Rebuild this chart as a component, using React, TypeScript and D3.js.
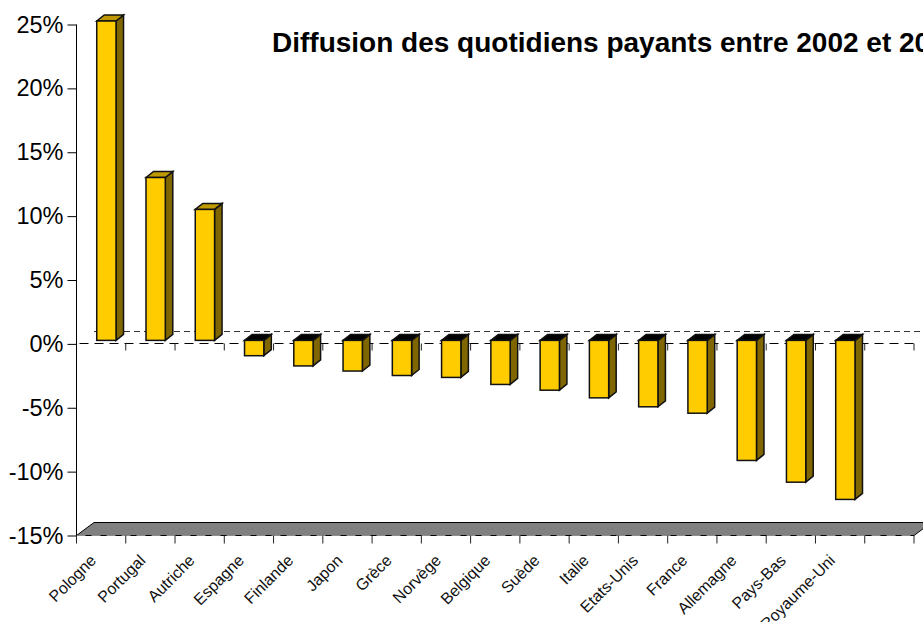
import React, { useEffect, useRef } from "react";
import * as d3 from "d3";

const categories = ["Pologne", "Portugal", "Autriche", "Espagne", "Finlande", "Japon", "Grèce", "Norvège", "Belgique", "Suède", "Italie", "Etats-Unis", "France", "Allemagne", "Pays-Bas", "Royaume-Uni", ""];
const values = [25, 12.75, 10.25, -1.2, -2.0, -2.4, -2.75, -2.9, -3.45, -3.9, -4.5, -5.2, -5.7, -9.4, -11.1, -12.45];
const yTicks = [25, 20, 15, 10, 5, 0, -5, -10, -15];
const title = "Diffusion des quotidiens payants entre 2002 et 2003";

const FONT = "'Liberation Sans', Arial, sans-serif";

export default function App() {
  const ref = useRef<SVGSVGElement>(null);

  useEffect(() => {
    document.body.style.margin = "0";
    const svg = d3.select(ref.current);
    svg.selectAll("*").remove();

    const width = 923;
    const height = 622;
    const left = 76.5;
    const right = 914;
    const top = 24.5;
    const bottom = 535.5;
    // depth of the fake 3d box, and of each bar inside it
    const wallDx = 17.5;
    const wallDy = 12;
    const barDx = 7.5;
    const barDy = 6;
    const shiftX = 5.25;
    const shiftY = 3.5;

    const x = d3.scaleBand().domain(categories.map((c, i) => i + c)).range([left, right]).paddingInner(0);
    const y = d3.scaleLinear().domain([-15, 25]).range([bottom, top]);
    const barW = 19.3;
    // snap the zero lines to a pixel so the dashes stay sharp
    const zeroY = Math.floor(y(0)) + 0.5;

    // floor
    svg.append("path")
      .attr("d", `M${left},${bottom}L${left + wallDx},${bottom - 13}L${right + wallDx},${bottom - 13}L${right},${bottom}Z`)
      .attr("fill", "#808080")
      .attr("stroke", "#000")
      .attr("stroke-width", 1);
    svg.append("line")
      .attr("x1", left).attr("x2", right).attr("y1", bottom).attr("y2", bottom)
      .attr("stroke", "#fff").attr("stroke-opacity", 0.55).attr("stroke-dasharray", "9 6");

    // zero gridline on the back wall
    svg.append("line")
      .attr("x1", left + wallDx).attr("x2", right + wallDx)
      .attr("y1", zeroY - wallDy).attr("y2", zeroY - wallDy)
      .attr("stroke", "#333").attr("stroke-width", 1).attr("stroke-dasharray", "6 4");

    // zero axis with its ticks
    const zero = svg.append("g").attr("transform", `translate(0,${zeroY})`);
    zero.append("line").attr("x1", left).attr("x2", right).attr("stroke", "#000").attr("stroke-dasharray", "9 6").attr("stroke-dashoffset", -3);
    zero.selectAll("line.t")
      .data(d3.range(1, categories.length + 1))
      .enter()
      .append("line")
      .attr("class", "t")
      .attr("x1", (i) => left + x.step() * i)
      .attr("x2", (i) => left + x.step() * i)
      .attr("y1", 0)
      .attr("y2", 7)
      .attr("stroke", "#222");

    // bars
    const bars = svg.append("g").selectAll("g").data(values).enter().append("g");
    const bx = (i: number) => x(i + categories[i])! + x.bandwidth() / 2 - barW / 2 + shiftX;
    const yTop = (v: number) => y(Math.max(v, 0)) - shiftY;
    const yBot = (v: number) => y(Math.min(v, 0)) - shiftY;

    bars.append("path")
      .attr("d", (v, i) => {
        const r = bx(i) + barW;
        return `M${r},${yTop(v)}L${r + barDx},${yTop(v) - barDy}L${r + barDx},${yBot(v) - barDy}L${r},${yBot(v)}Z`;
      })
      .attr("fill", "#806600")
      .attr("stroke", "#111")
      .attr("stroke-width", 1.5);
    bars.append("path")
      .attr("d", (v, i) => {
        const l = bx(i);
        const t = yTop(v);
        return `M${l},${t}L${l + barDx},${t - barDy}L${l + barW + barDx},${t - barDy}L${l + barW},${t}Z`;
      })
      .attr("fill", (v) => (v > 0 ? "#bf9900" : "#000"))
      .attr("stroke", "#111")
      .attr("stroke-width", 1.5);
    bars.append("rect")
      .attr("x", (v, i) => bx(i))
      .attr("y", (v) => yTop(v))
      .attr("width", barW)
      .attr("height", (v) => yBot(v) - yTop(v))
      .attr("fill", "#ffcc00")
      .attr("stroke", "#111")
      .attr("stroke-width", 1.5);

    // y axis
    const yAxis = svg.append("g")
      .attr("transform", `translate(${left},0)`)
      .call(d3.axisLeft(y).tickValues(yTicks).tickFormat((d) => `${d}%`).tickSize(9).tickPadding(4));
    yAxis.selectAll("text").attr("font-family", FONT).attr("font-size", 23.5).attr("fill", "#000");
    yAxis.selectAll("line").attr("stroke", "#000");
    yAxis.select(".domain").attr("stroke", "#000").attr("d", `M0,${top}V${bottom + 7}`);

    // x axis at the bottom
    const xAxis = svg.append("g")
      .attr("transform", `translate(0,${bottom})`)
      .call(d3.axisBottom(x).tickFormat(() => "").tickSize(0));
    xAxis.select(".domain").remove();
    xAxis.selectAll(".tick").remove();
    xAxis.selectAll("line.t")
      .data(d3.range(0, categories.length + 1))
      .enter()
      .append("line")
      .attr("class", "t")
      .attr("x1", (i) => left + x.step() * i)
      .attr("x2", (i) => left + x.step() * i)
      .attr("y1", 0)
      .attr("y2", 8)
      .attr("stroke", "#222");
    xAxis.selectAll("text.c")
      .data(categories.filter((c) => c))
      .enter()
      .append("text")
      .attr("class", "c")
      .attr("text-anchor", "end")
      .attr("font-family", FONT)
      .attr("font-size", 16)
      .attr("fill", "#111")
      .attr("transform", (c, i) => `translate(${x(i + c)! + x.bandwidth() / 2 - 4},${26}) rotate(-45)`)
      .text((c) => c);

    svg.append("text")
      .attr("x", 272)
      .attr("y", 52)
      .attr("font-family", FONT)
      .attr("font-size", 28)
      .attr("font-weight", "bold")
      .attr("fill", "#000")
      .text(title);

    svg.attr("width", width).attr("height", height);
  }, []);

  return <svg ref={ref} style={{ display: "block", overflow: "hidden" }} />;
}
